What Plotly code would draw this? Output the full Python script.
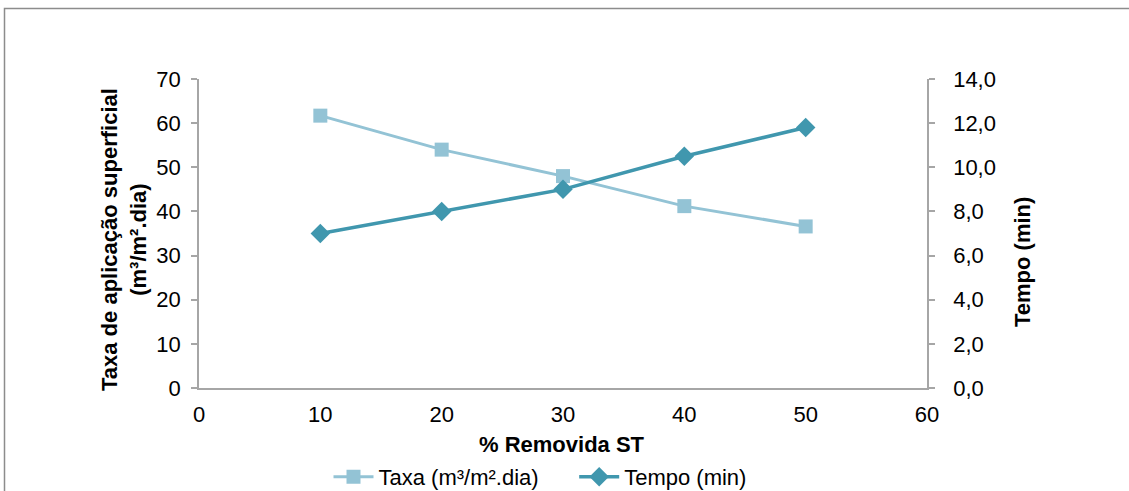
import plotly.graph_objects as go

remocao = [10, 20, 30, 40, 50]
taxa = [61.7, 54.0, 48.0, 41.2, 36.6]
tempo = [7.0, 8.0, 9.0, 10.5, 11.8]

x_ticks = [0, 10, 20, 30, 40, 50, 60]
y1_ticks = [0, 10, 20, 30, 40, 50, 60, 70]
y2_ticks = [0, 2, 4, 6, 8, 10, 12, 14]

c_taxa = "#93C3D5"
c_tempo = "#4097AE"
axis_c = "#A6A6A6"
font_f = "Liberation Sans, Arial, sans-serif"
FS = 22
NB = "\u00a0"

W, H = 1129, 491
L, R, T, B = 199, 927, 79, 388

fig = go.Figure()
fig.add_trace(go.Scatter(
    x=remocao, y=taxa, name="Taxa (m³/m².dia)" + NB * 5, mode="lines+markers",
    line=dict(color=c_taxa, width=3),
    marker=dict(symbol="square", size=14, color=c_taxa),
    yaxis="y"))
fig.add_trace(go.Scatter(
    x=remocao, y=tempo, name="Tempo (min)", mode="lines+markers",
    line=dict(color=c_tempo, width=3.5),
    marker=dict(symbol="diamond", size=15, color=c_tempo),
    yaxis="y2"))

def px2x(p):
    return (p - L) / (R - L)

def px2y(p):
    return (B - p) / (B - T)

fig.update_layout(
    width=W, height=H,
    margin=dict(l=L, r=W - R, t=T, b=H - B, autoexpand=False),
    paper_bgcolor="white", plot_bgcolor="white",
    separators=",.",
    font=dict(family=font_f, size=FS, color="#000000"),
    showlegend=True,
    legend=dict(orientation="h", x=px2x(540), xanchor="center", y=px2y(477), yanchor="middle",
                font=dict(size=FS), itemwidth=40, traceorder="normal"),
    xaxis=dict(range=[0, 60], tickvals=x_ticks, showgrid=False, zeroline=False,
               showline=True, linecolor=axis_c, linewidth=1.5, ticks="",
               tickfont=dict(size=FS), ticklabelstandoff=6),
    yaxis=dict(range=[0, 70], tickvals=y1_ticks, showgrid=False, zeroline=False,
               showline=True, linecolor=axis_c, linewidth=1.5, ticks="outside",
               ticklen=6, tickcolor=axis_c, tickwidth=1.5, tickfont=dict(size=FS),
               ticklabelstandoff=6),
    yaxis2=dict(range=[0, 14], tickvals=y2_ticks, tickformat=".1f", overlaying="y",
                side="right", showgrid=False, zeroline=False, showline=True,
                linecolor=axis_c, linewidth=1.5, ticks="outside", ticklen=6,
                tickcolor=axis_c, tickwidth=1.5, tickfont=dict(size=FS),
                ticklabelstandoff=14),
    shapes=[dict(type="rect", xref="paper", yref="paper",
                 x0=px2x(4.5), x1=px2x(1145), y0=px2y(505), y1=px2y(8.5),
                 line=dict(color="#8C8C8C", width=1.5), fillcolor="rgba(0,0,0,0)",
                 layer="below")],
    annotations=[
        dict(text="<b>Tempo (min)</b>", xref="paper", yref="paper",
             x=px2x(1022), y=px2y(262), textangle=-90, showarrow=False,
             xanchor="center", yanchor="middle", font=dict(size=FS)),
        dict(text="<b>Taxa de aplicação superficial<br>(m³/m².dia)</b>", xref="paper", yref="paper",
             x=px2x(124), y=px2y(240), textangle=-90, showarrow=False,
             xanchor="center", yanchor="middle", font=dict(size=FS)),
        dict(text="<b>% Removida ST</b>", xref="paper", yref="paper",
             x=px2x(562), y=px2y(444), showarrow=False,
             xanchor="center", yanchor="middle", font=dict(size=FS)),
    ],
)

fig.write_html("out.html", config={"displayModeBar": False},
               post_script="document.body.style.margin='0';")
